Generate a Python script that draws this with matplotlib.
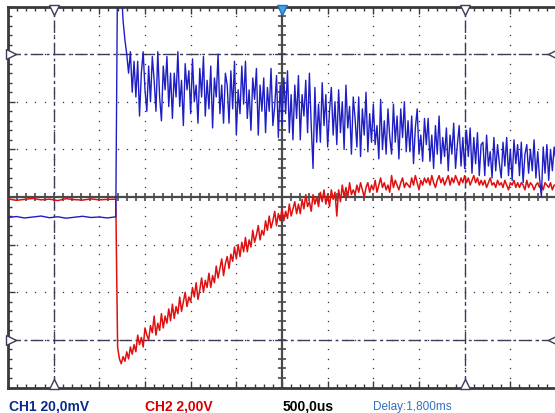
import numpy as np
import matplotlib.pyplot as plt

# scope settings (per division)
ch1_scale = 20.0     # mV/div
ch2_scale = 2.0      # V/div
time_scale = 0.5     # ms/div
delay = 1.8          # ms, trigger to screen centre

# CH1 (blue) in mV, before and after the trigger (0.02 ms per sample after)
ch1_pre = [-8.6, -8.2, -8.8, -8.4, -8.0, -8.7, -8.3, -8.9, -8.5, -8.1, -8.6, -8.4, -8.8, -8.3]
ch1_post = [
    98, 95, 88, 74, 66, 60, 52, 61, 44, 57,
    42, 57, 34, 52, 61, 45, 36, 55, 40, 59,
    49, 36, 61, 42, 32, 55, 45, 59, 38, 52,
    33, 52, 42, 61, 38, 49, 30, 56, 45, 53,
    35, 58, 40, 47, 31, 54, 42, 59, 34, 49,
    37, 55, 29, 50, 42, 60, 35, 47, 31, 52,
    47, 31, 53, 37, 57, 26, 45, 35, 55, 39,
    57, 33, 45, 28, 50, 41, 54, 26, 47, 36,
    50, 27, 46, 36, 54, 30, 38, 51, 25, 47,
    30, 50, 35, 53, 27, 43, 24, 47, 33, 51,
    24, 43, 34, 49, 27, 52, 30, 12, 46, 23,
    39, 23, 48, 30, 43, 21, 36, 46, 26, 40,
    22, 45, 27, 40, 20, 47, 29, 38, 18, 42,
    33, 21, 42, 17, 37, 26, 44, 19, 35, 23,
    39, 22, 30, 16, 41, 20, 32, 18, 37, 25,
    18, 39, 23, 34, 16, 37, 25, 40, 19, 32,
    19, 34, 14, 29, 37, 18, 26, 15, 33, 22,
    33, 15, 26, 12, 30, 18, 34, 14, 25, 17,
    29, 11, 26, 18, 31, 12, 22, 30, 13, 25,
    12, 28, 17, 29, 10, 25, 14, 27, 9, 22,
    23, 9, 26, 13, 19, 8, 25, 11, 22, 14,
    8, 23, 13, 25, 9, 20, 7, 24, 14, 22,
    9, 23, 6, 18, 22, 10, 20, 11, 24, 8,
    19, 8, 0, 21, 10, 22, 7, 20, 11, 21,
    15]

# CH2 (red) in V
ch2_pre = [-0.08, -0.14, -0.10, -0.06, -0.12, -0.09, -0.15, -0.07, -0.11, -0.13, -0.08, -0.12, -0.10, -0.09]
ch2_post = [
    -6.3, -6.8, -7.0, -6.7, -6.9, -6.5, -6.8, -6.3, -6.6, -6.2,
    -6.5, -5.8, -6.2, -5.9, -6.3, -5.5, -5.8, -6.0, -5.4, -5.7,
    -5.0, -5.8, -5.3, -5.6, -4.9, -5.5, -5.0, -5.3, -4.7, -5.2,
    -4.5, -5.1, -4.6, -4.9, -4.2, -4.8, -4.4, -4.0, -4.6, -4.2,
    -4.4, -3.8, -4.2, -3.6, -4.3, -3.9, -3.4, -4.0, -3.5, -3.8,
    -3.2, -3.8, -3.3, -3.6, -2.9, -3.4, -3.0, -2.6, -3.3, -2.8,
    -2.5, -3.0, -2.4, -2.7, -2.1, -2.6, -2.0, -2.5, -1.9, -2.3,
    -1.7, -2.3, -1.8, -2.1, -1.4, -1.9, -1.6, -1.2, -1.8, -1.4,
    -1.6, -1.0, -1.4, -0.8, -1.3, -1.0, -0.6, -1.2, -0.7, -1.0,
    -0.5, -1.0, -0.6, -0.9, -0.3, -0.8, -0.5, -0.2, -0.7, -0.3,
    -0.7, -0.1, -0.5, 0.1, -0.4, -0.2, -0.6, 0.1, -0.3, 0.0,
    -0.4, 0.2, -0.2, 0.3, -0.3, 0.1, -0.4, 0.3, -0.1, 0.2,
    -0.8, 0.3, -0.2, 0.5, 0.0, 0.4, 0.0, 0.6, 0.1, 0.3,
    0.1, 0.5, 0.2, 0.6, 0.3, 0.0, 0.4, 0.6, 0.2, 0.5,
    0.3, 0.7, 0.2, 0.5, 0.8, 0.4, 0.6, 0.3, 0.5, 0.2,
    0.9, 0.4, 0.7, 0.5, 0.3, 0.6, 0.8, 0.4, 0.6, 0.5,
    0.4, 0.8, 0.5, 0.9, 0.6, 0.3, 0.7, 0.5, 0.8, 0.6,
    0.8, 0.5, 0.9, 0.6, 0.4, 0.7, 0.9, 0.6, 0.8, 0.5,
    0.7, 0.9, 0.5, 0.8, 0.6, 0.9, 0.7, 0.5, 0.8, 0.6,
    0.9, 0.6, 0.8, 0.5, 0.7, 0.9, 0.6, 0.8, 0.5, 0.7,
    0.5, 0.7, 0.4, 0.6, 0.8, 0.5, 0.6, 0.4, 0.7, 0.5,
    0.6, 0.4, 0.7, 0.5, 0.3, 0.6, 0.5, 0.7, 0.4, 0.6,
    0.4, 0.6, 0.5, 0.3, 0.7, 0.4, 0.6, 0.5, 0.3, 0.5,
    0.6, 0.4, 0.5, 0.3, 0.6, 0.5, 0.4, 0.6, 0.3, 0.5,
    0.5]

# sample times in ms (trigger at 0)
t_pre = np.linspace(-1.2, -0.02, len(ch1_pre))
t_post = np.linspace(0, 4.8, len(ch1_post))
t = np.concatenate([t_pre, t_post])
xdiv = (t - delay) / time_scale
ch1 = np.array(ch1_pre + ch1_post) / ch1_scale
ch2 = np.array(ch2_pre + ch2_post) / ch2_scale

grid_col = '#30304c'
frame_col = '#3a3a3a'
cur_col = '#3c3c5a'

fig = plt.figure(figsize=(5.55, 4.14), dpi=100)
ax = fig.add_axes([8/555, 25.5/414, 548/555, 381/414])
ax.set_xlim(-6, 6)
ax.set_ylim(-4, 4)

# dotted graticule
fine_x = np.arange(-6, 6.01, 0.2)
fine_y = np.arange(-4, 4.01, 0.2)
for i in range(-5, 6):
    if i == 0:
        continue
    ax.plot(np.full_like(fine_y, i), fine_y, ls='none', marker='s', ms=0.9, mew=0, color=grid_col, zorder=1)
for j in range(-3, 4):
    if j == 0:
        continue
    ax.plot(fine_x, np.full_like(fine_x, j), ls='none', marker='s', ms=0.9, mew=0, color=grid_col, zorder=1)

# centre axes with small ticks
ax.axhline(0, color='#4a4a4a', lw=1.6, zorder=2)
ax.axvline(0, color='#4a4a4a', lw=1.6, zorder=2)
ax.plot(fine_x, np.zeros_like(fine_x), ls='none', marker='|', ms=6, mew=1.2, color='#4a4a4a', zorder=2)
ax.plot(np.zeros_like(fine_y), fine_y, ls='none', marker='_', ms=6, mew=1.2, color='#4a4a4a', zorder=2)

# cursors
for xc in (-5, 4):
    ax.axvline(xc, color=cur_col, lw=1.0, dashes=(9, 2.5, 2, 2.5), zorder=2)
for yc in (-3, 3):
    ax.axhline(yc, color=cur_col, lw=1.0, dashes=(9, 2.5, 2, 2.5), zorder=2)

# traces
ax.plot(xdiv, ch1, color='#1e1ec4', lw=1.0, zorder=4)
ax.plot(xdiv, ch2, color='#e01010', lw=1.1, zorder=3)

# cursor markers
mk = dict(ls='none', mfc='white', mec=cur_col, ms=7, mew=1.0, clip_on=False, zorder=6)
ax.plot([-5, 4], [3.93, 3.93], marker='v', **mk)
ax.plot([-5, 4], [-3.93, -3.93], marker='^', **mk)
ax.plot([-5.93], [3], marker='>', **mk)
ax.plot([-5.93], [-3], marker='>', **mk)
ax.plot([5.93], [3], marker='<', **mk)
ax.plot([5.93], [-3], marker='<', **mk)
ax.plot([0], [3.93], marker='v', ls='none', ms=7, mfc='#48a0e0', mec='#2070c0', clip_on=False, zorder=6)

# frame
for side in ('left', 'top', 'bottom'):
    ax.spines[side].set_color(frame_col)
    ax.spines[side].set_linewidth(2)
ax.spines['right'].set_visible(False)
ax.set_xticks(np.arange(-6, 7, 1))
ax.set_yticks(np.arange(-4, 5, 1))
ax.set_xticks(fine_x, minor=True)
ax.set_yticks(fine_y, minor=True)
ax.tick_params(which='both', direction='in', top=True, right=False, labelleft=False,
               labelbottom=False, color=frame_col, width=1)
ax.tick_params(which='major', length=5)
ax.tick_params(which='minor', length=3)

# status line
fig.text(9/555, 0.0175, 'CH1 20,0mV', color='#0c2a8c', fontsize=10, fontweight='bold',
         family='Liberation Sans', va='center')
fig.text(145/555, 0.0175, 'CH2 2,00V', color='#d80000', fontsize=10, fontweight='bold',
         family='Liberation Sans', va='center')
fig.text(283/555, 0.0175, '500,0us', color='black', fontsize=10, fontweight='bold',
         family='Liberation Sans', va='center')
fig.text(373/555, 0.0175, 'Delay:1,800ms', color='#3070c0', fontsize=8.5,
         family='Liberation Sans', va='center')

fig.savefig('out.png', dpi=100)
